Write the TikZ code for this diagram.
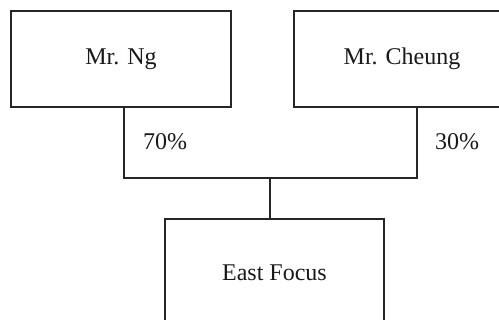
\documentclass[tikz,border=0pt]{standalone}
\usepackage{fontspec}
\setmainfont{Liberation Serif}
\begin{document}
\begin{tikzpicture}[x=1pt,y=-1pt,
  holder/.style={draw=black!85, line width=1.1pt, inner sep=0pt,
    font=\fontsize{24}{28}\selectfont, text=black!90},
  share/.style={font=\fontsize{24}{28}\selectfont, text=black!90, inner sep=0pt},
  link/.style={draw=black!85, line width=1.1pt}]
  \useasboundingbox (0,0) rectangle (499,320);
  \clip (0,0) rectangle (499,320);
  % shareholders and the company they own
  \node[holder, minimum width=220pt, minimum height=96pt] (ng) at (121,59) {Mr. Ng};
  \node[holder, minimum width=216pt, minimum height=96pt] (cheung) at (402,59) {Mr. Cheung};
  \node[holder, minimum width=219pt, minimum height=108pt] (ef) at (274.5,273) {East Focus};
  % ownership bracket
  \coordinate (jl) at (124,178);
  \coordinate (jr) at (417,178);
  \coordinate (jm) at (270,178);
  \draw[link] (jl |- ng.south) -- (jl) -- (jr) -- (jr |- cheung.south);
  \draw[link] (jm) -- (jm |- ef.north);
  % percentages
  \node[share] (p70) at (165,142) {70\%};
  \node[share] (p30) at (457,142) {30\%};
\end{tikzpicture}
\end{document}
